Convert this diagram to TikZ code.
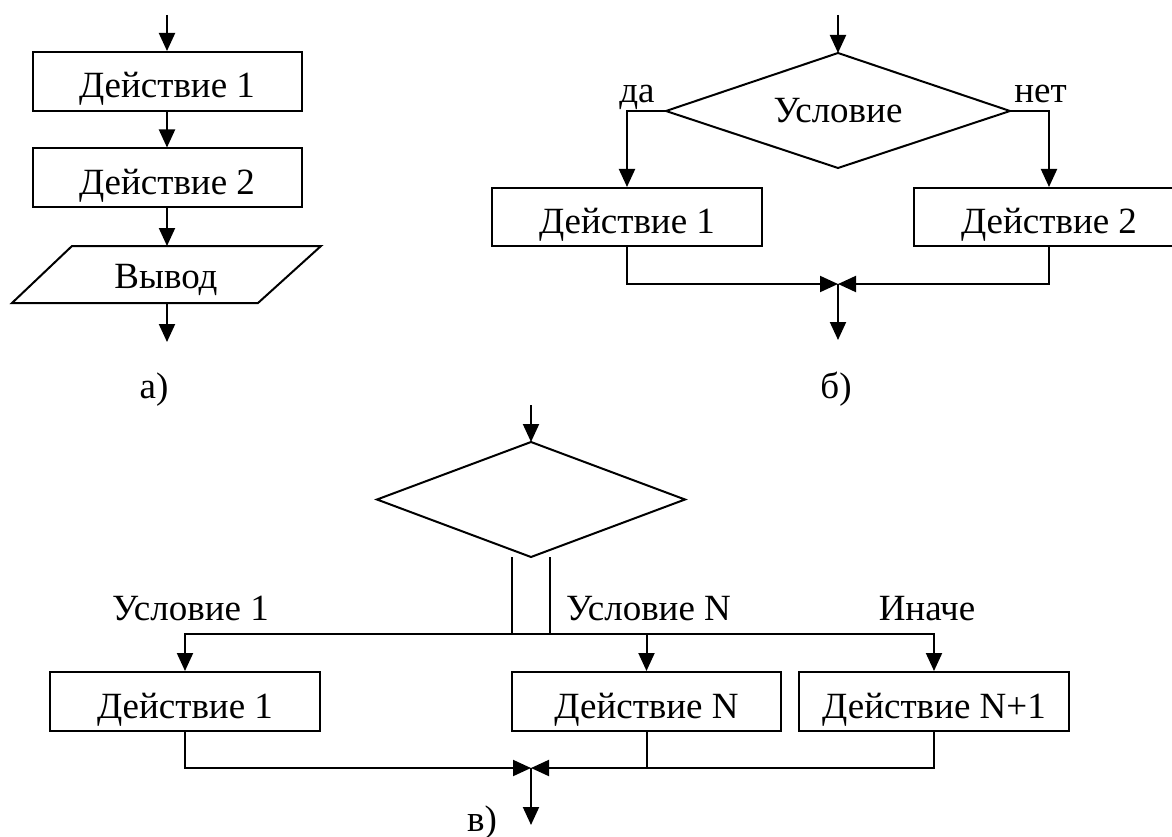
\documentclass[tikz,border=0pt]{standalone}
\usepackage{fontspec}
\setmainfont{Liberation Serif}
\usetikzlibrary{arrows.meta,calc}

\begin{document}
\begin{tikzpicture}[x=1pt,y=-1pt,
  line width=2pt,
  every node/.style={font=\fontsize{37}{40}\selectfont},
  arr/.style={-{Triangle[length=18pt,width=16pt]}},
  actbox/.style={draw, rectangle, minimum width=269pt, minimum height=59pt,
    inner sep=0pt, text height=33pt, text depth=0pt},
  lbl/.style={anchor=base, inner sep=0pt}]

\useasboundingbox (0,0) rectangle (1172,837);
\clip (0,0) rectangle (1172,837);

% ---------- a) linear sequence ----------
\coordinate (a0) at (167,15);
\node[actbox] (a1) at (167,81.5) {Действие 1};
\node[actbox] (a2) at (167,178) {Действие 2};
\draw[line join=miter] (72,246) -- (321,246) -- (258,303) -- (12,303) -- cycle;
\node[inner sep=0pt, text height=27pt, text depth=0pt] (a3) at (166,274.5) {Вывод};
\coordinate (a3n) at (167,246);
\coordinate (a3s) at (167,303);
\coordinate (aout) at (167,342);
\draw[arr] (a0) -- (a1.north);
\draw[arr] (a1.south) -- (a2.north);
\draw[arr] (a2.south) -- (a3n);
\draw[arr] (a3s) -- (aout);
\node[lbl] (la) at (154,398) {а)};

% ---------- б) branching ----------
\coordinate (b0) at (838,15);
\coordinate (bcn) at (838,53);
\coordinate (bcw) at (666,111);
\coordinate (bce) at (1010,111);
\coordinate (bcs) at (838,168);
\draw (bcn) -- (bce) -- (bcs) -- (bcw) -- cycle;
\node[inner sep=0pt, text height=24pt, text depth=0pt] (bc) at (838,110.5) {Условие};
\node[actbox, minimum width=270pt, minimum height=58pt] (b1) at (627,217) {Действие 1};
\node[actbox, minimum width=270pt, minimum height=58pt] (b2) at (1049,217) {Действие 2};
\draw[arr] (b0) -- (bcn);
\draw[arr] (bcw) -| (b1.north);
\draw[arr] (bce) -| (b2.north);
\coordinate (bj) at (838,284);
\coordinate (bout) at (838,340);
\draw[arr] (b1.south) |- (bj);
\draw[arr] (b2.south) |- (bj);
\draw[arr] (bj) -- (bout);
\node[lbl] (lyes) at (637,103) {да};
\node[lbl] (lno) at (1040.5,103) {нет};
\node[lbl] (lb) at (836,398) {б)};

% ---------- в) multiple choice ----------
\coordinate (c0) at (531,405);
\coordinate (ccn) at (531,442);
\coordinate (ccw) at (377,499.5);
\coordinate (cce) at (685,499.5);
\coordinate (ccs) at (531,557);
\draw (ccn) -- (cce) -- (ccs) -- (ccw) -- cycle;
\draw[arr] (c0) -- (ccn);
\coordinate (cl) at (512,557);
\coordinate (cr) at (550,557);
\coordinate (bus) at (0,634);
\node[actbox, minimum width=270pt] (c1) at (185,701.5) {Действие 1};
\node[actbox, minimum width=269pt] (cN) at (646.5,701.5) {Действие N};
\node[actbox, minimum width=270pt] (cN1) at (934,701.5) {Действие N+1};
\draw[arr] (cl) -- (cl |- bus) -| (c1.north);
\draw[arr] (cr) -- (cr |- bus) -| (cN1.north);
\draw (cl |- bus) -- (cr |- bus);
\draw[arr] (cN.north |- bus) -- (cN.north);
\coordinate (cj) at (531,768);
\coordinate (cout) at (531,825);
\draw[arr] (c1.south) |- (cj);
\draw[arr] (cN1.south) |- (cj);
\draw (cN.south) -- (cN.south |- cj);
\draw[arr] (cj) -- (cout);
\node[lbl] (lc1) at (190.5,620) {Условие 1};
\node[lbl] (lcN) at (648.5,620) {Условие N};
\node[lbl] (lce) at (927,620) {Иначе};
\node[lbl] (lc) at (482,831) {в)};
\end{tikzpicture}
\end{document}
